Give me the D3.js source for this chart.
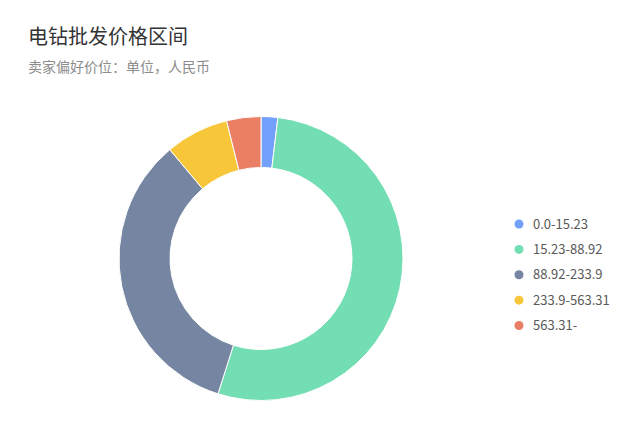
<!DOCTYPE html>
<html>
<head>
<meta charset="utf-8">
<script src="https://cdn.jsdelivr.net/npm/d3@7"></script>
<style>
  body { margin: 0; background: #fff; }
  svg { display: block; }
</style>
</head>
<body>
<div id="chart"></div>
<script>
// chart data
var ranges = ["0.0-15.23", "15.23-88.92", "88.92-233.9", "233.9-563.31", "563.31-"];
var shares = [1.9, 53.0, 34.0, 7.2, 3.9];
var colors = ["#5B8FF9", "#5AD8A6", "#5D7092", "#F6BD16", "#E8684A"];

var svgWidth = 640;
var svgHeight = 430;

var svg = d3.select("#chart")
    .append("svg")
    .attr("width", svgWidth)
    .attr("height", svgHeight);

// titles
svg.append("text")
    .attr("x", 28)
    .attr("y", 44)
    .attr("font-family", "'Noto Sans CJK SC', sans-serif")
    .attr("font-size", 20)
    .attr("fill", "#333")
    .text("电钻批发价格区间");

svg.append("text")
    .attr("x", 28)
    .attr("y", 72)
    .attr("font-family", "'Noto Sans CJK SC', sans-serif")
    .attr("font-size", 14)
    .attr("fill", "#8c8c8c")
    .text("卖家偏好价位：单位，人民币");

// donut
var cx = 261, cy = 258.5;
var outerR = 142, innerR = 91;

var color = d3.scaleOrdinal().domain(ranges).range(colors);

var pie = d3.pie()
    .sort(null)
    .value(d => d.value);

var arc = d3.arc()
    .innerRadius(innerR)
    .outerRadius(outerR);

var pieData = ranges.map((r, i) => ({ name: r, value: shares[i] }));

var pieGroup = svg.append("g")
    .attr("transform", `translate(${cx}, ${cy})`);

pieGroup.selectAll("path")
    .data(pie(pieData))
    .enter()
    .append("path")
    .attr("d", arc)
    .attr("fill", d => color(d.data.name))
    .attr("fill-opacity", 0.85)
    .attr("stroke", "#fff")
    .attr("stroke-width", 1);

// legend
var legendY = d3.scalePoint()
    .domain(ranges)
    .range([224, 325.5]);

var legend = svg.append("g");

var items = legend.selectAll("g")
    .data(ranges)
    .enter()
    .append("g")
    .attr("transform", d => `translate(519, ${legendY(d)})`);

items.append("circle")
    .attr("r", 4.5)
    .attr("fill", d => color(d))
    .attr("fill-opacity", 0.85);

items.append("text")
    .attr("x", 14)
    .attr("dy", "0.35em")
    .attr("font-family", "'Noto Sans CJK SC', sans-serif")
    .attr("font-size", 13)
    .attr("fill", "#595959")
    .text(d => d);
</script>
</body>
</html>
